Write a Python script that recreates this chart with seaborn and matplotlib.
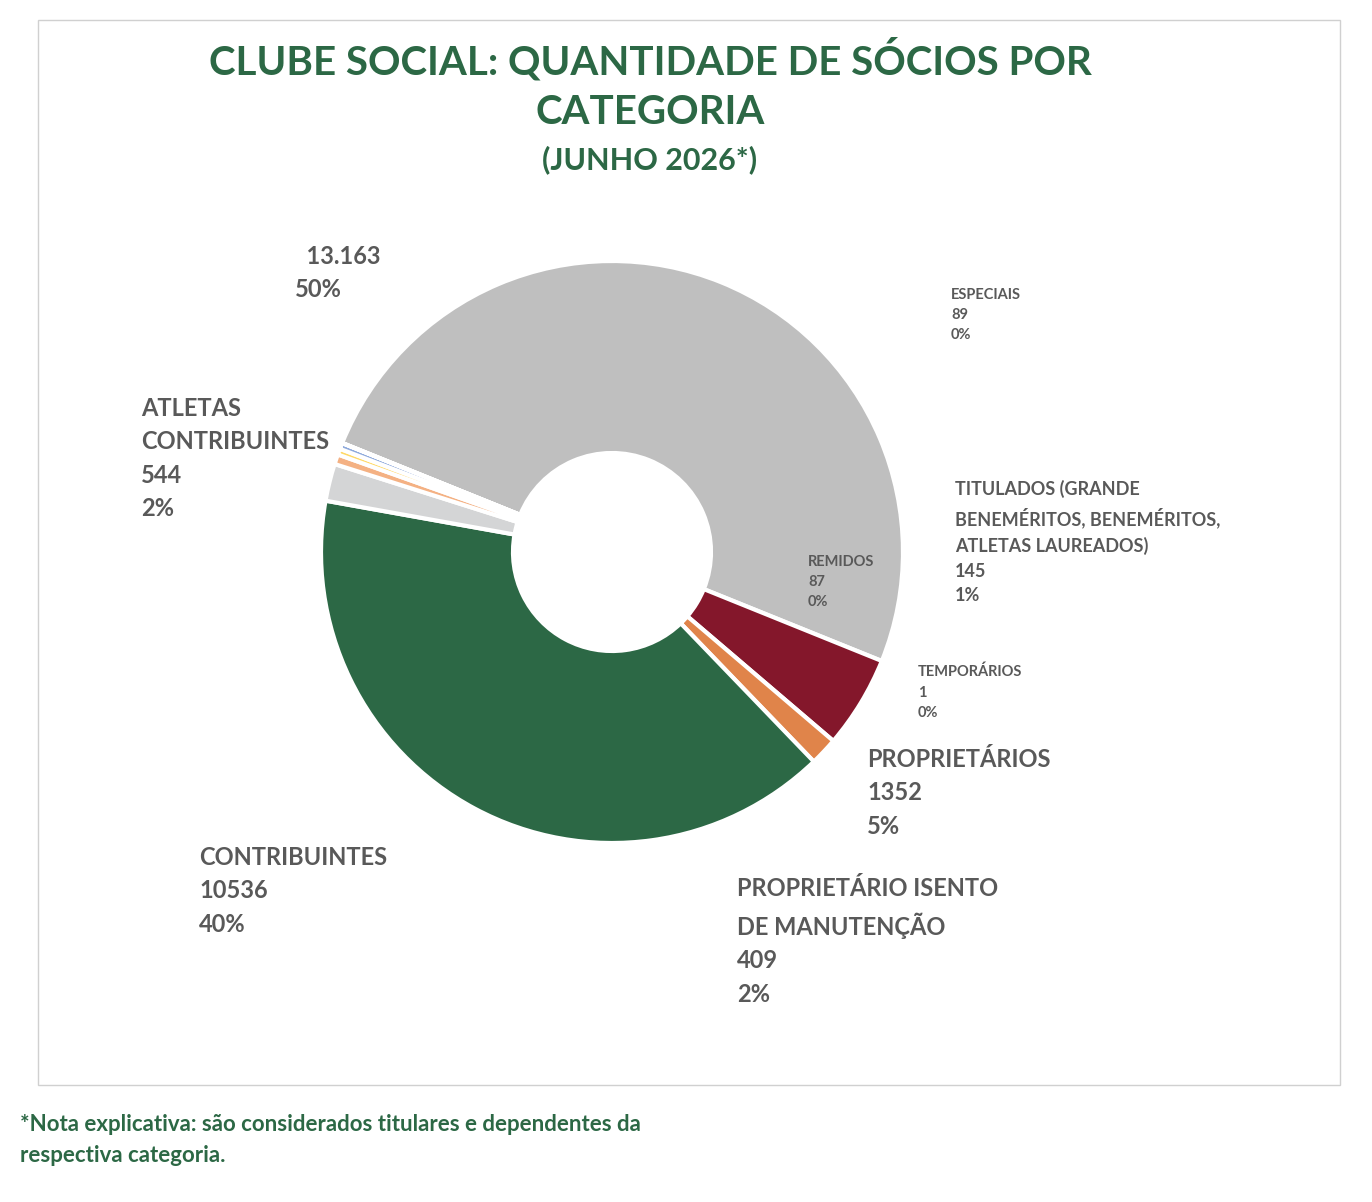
import matplotlib
matplotlib.use("Agg")
import matplotlib.pyplot as plt
import seaborn as sns
from matplotlib.patches import Rectangle

sns.set_theme(style="white")
plt.rcParams['font.family'] = ['Lato', 'DejaVu Sans']

categories = ["", "PROPRIETÁRIOS", "PROPRIETÁRIO ISENTO\nDE MANUTENÇÃO", "CONTRIBUINTES",
              "ATLETAS\nCONTRIBUINTES", "TITULADOS (GRANDE\nBENEMÉRITOS, BENEMÉRITOS,\nATLETAS LAUREADOS)",
              "REMIDOS", "ESPECIAIS", "TEMPORÁRIOS"]
values = [13163, 1352, 409, 10536, 544, 145, 87, 89, 1]
value_labels = ["13.163", "1352", "409", "10536", "544", "145", "87", "89", "1"]
pct_labels = ["50%", "5%", "2%", "40%", "2%", "1%", "0%", "0%", "0%"]
colors = ["#BFBFBF", "#84172B", "#E0844A", "#2C6845", "#D4D5D6", "#F4B183", "#FFD966", "#8FAADC", "#A5A5A5"]

fig = plt.figure(figsize=(13.72, 12.02), dpi=100)
W, H = 1372, 1202
fig.patches.append(Rectangle((38 / W, 1 - 1085 / H), (1340 - 38) / W, (1085 - 20) / H,
                             transform=fig.transFigure, fill=False, edgecolor="#D0D0D0", lw=1))

cx, cy, half = 612, 552, 300
ax = fig.add_axes([(cx - half) / W, (H - cy - half) / H, 2 * half / W, 2 * half / H])
ax.pie(values, colors=colors, startangle=158, counterclock=False, radius=0.97,
       wedgeprops=dict(width=0.64, edgecolor="white", linewidth=3))
ax.set_xlim(-1, 1); ax.set_ylim(-1, 1); ax.set_aspect("equal"); ax.axis("off")

green = "#2C6845"
grey = "#595959"
fig.text(650 / W, 1 - 60 / H, "CLUBE SOCIAL: QUANTIDADE DE SÓCIOS POR", ha="center", va="center",
         fontsize=29, fontweight="bold", color=green)
fig.text(650 / W, 1 - 112 / H, "CATEGORIA", ha="center", va="center", fontsize=29, fontweight="bold", color=green)
fig.text(650 / W, 1 - 160 / H, "(JUNHO 2026*)", ha="center", va="center", fontsize=22, fontweight="bold", color=green)

# label positions (top-left anchor, pixels) and sizes
label_pos = [(295, 245, 17), (867, 748, 17), (737, 877, 17), (199, 846, 17), (141, 397, 17),
             (955, 480, 13), (808, 555, 10.5), (951, 288, 10.5), (918, 665, 10.5)]
for cat, v, p, (x, y, fs) in zip(categories, value_labels, pct_labels, label_pos):
    txt = (cat + "\n" if cat else "") + v + "\n" + p
    if not cat:
        txt = "  " + v + "\n" + p
    fig.text(x / W, 1 - y / H, txt, ha="left", va="top", fontsize=fs, fontweight="bold",
             color=grey, linespacing=1.55)

fig.text(20 / W, 1 - 1140 / H, "*Nota explicativa: são considerados titulares e dependentes da\nrespectiva categoria.",
         ha="left", va="center", fontsize=16, fontweight="bold", color=green, linespacing=1.6)
fig.savefig("out.png", dpi=100)
